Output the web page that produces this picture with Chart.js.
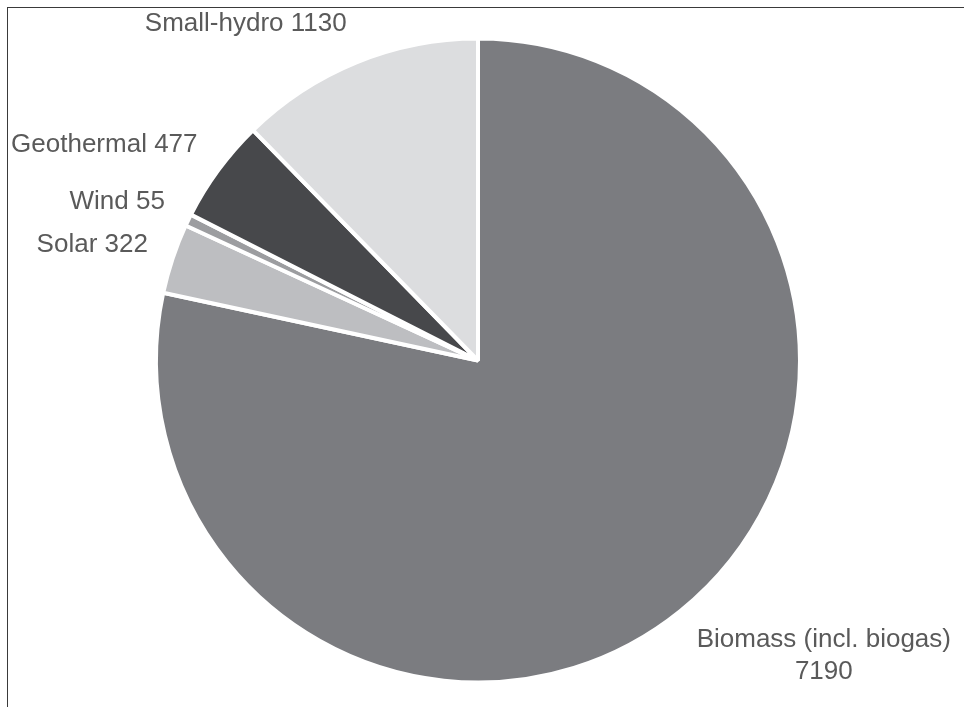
<!DOCTYPE html>
<html>
<head>
<meta charset="utf-8">
<script src="https://cdn.jsdelivr.net/npm/chart.js@4.4.0/dist/chart.umd.min.js"></script>
<style>
  html, body { margin: 0; padding: 0; background: #fff; }
  #wrap { position: relative; width: 964px; height: 707px; }
  #frame { position: absolute; left: 7px; top: 7px; right: 0; bottom: 0;
           border-top: 1.5px solid #3a3a3a; border-left: 1.5px solid #3a3a3a; pointer-events: none; }
</style>
</head>
<body>
<div id="wrap">
  <canvas id="chart" width="964" height="707"></canvas>
  <div id="frame"></div>
</div>
<script>
// data
const categories = ['Biomass (incl. biogas)', 'Solar', 'Wind', 'Geothermal', 'Small-hydro'];
const values = [7190, 322, 55, 477, 1130];
const sliceColors = ['#7b7c80', '#bdbec1', '#9c9da0', '#47484b', '#dcdddf'];

const labelFont = '26px "Liberation Sans", Arial, sans-serif';
const labelColor = '#5a5a5a';
const lineHeight = 32;
const labelGap = 26;

// draws "name value" outside each slice, pushed away from the pie
const outsideLabels = {
    id: 'outsideLabels',
    afterDatasetsDraw(chart) {
        const ctx = chart.ctx;
        const meta = chart.getDatasetMeta(0);
        ctx.save();
        ctx.font = labelFont;
        ctx.fillStyle = labelColor;
        ctx.textAlign = 'center';
        ctx.textBaseline = 'middle';
        meta.data.forEach((arc, i) => {
            const p = arc.getProps(['x', 'y', 'startAngle', 'endAngle', 'outerRadius'], true);
            const mid = (p.startAngle + p.endAngle) / 2;
            const dist = p.outerRadius + labelGap;
            const ax = p.x + Math.cos(mid) * dist;
            const ay = p.y + Math.sin(mid) * dist;
            const onRight = Math.cos(mid) >= 0;

            let lines = [categories[i] + ' ' + values[i]];
            let w = ctx.measureText(lines[0]).width;
            if (onRight ? ax + w > chart.width : ax - w < 0) {
                lines = [categories[i], String(values[i])];
                w = Math.max(...lines.map(t => ctx.measureText(t).width));
            }
            const h = lines.length * lineHeight;
            const left = onRight ? ax : ax - w;
            const cy = ay + Math.sin(mid) * h / 2;
            lines.forEach((t, k) => {
                ctx.fillText(t, left + w / 2, cy - h / 2 + lineHeight * (k + 0.5));
            });
        });
        ctx.restore();
    }
};

const chart = new Chart(document.getElementById('chart').getContext('2d'), {
    type: 'pie',
    data: {
        labels: categories,
        datasets: [{
            data: values,
            backgroundColor: sliceColors,
            borderColor: '#ffffff',
            borderWidth: 4,
        }],
    },
    options: {
        responsive: false,
        animation: false,
        radius: 322,
        layout: { padding: { left: 0, right: 8, top: 14, bottom: 0 } },
        plugins: {
            legend: { display: false },
            tooltip: { enabled: false },
        },
    },
    plugins: [outsideLabels],
});
</script>
</body>
</html>
